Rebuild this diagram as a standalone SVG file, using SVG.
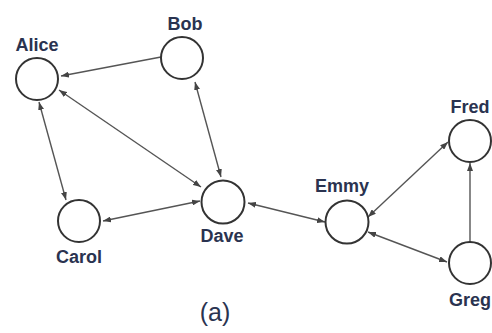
<svg xmlns="http://www.w3.org/2000/svg" width="492" height="333" viewBox="0 0 492 333">
  <style>
    .node circle { fill: #ffffff; stroke: #333333; stroke-width: 2; }
    .node text { font-family: "Liberation Sans", Arial, sans-serif; font-weight: bold; font-size: 18px; fill: #2a3350; text-anchor: middle; }
    .edge { stroke: #555555; stroke-width: 1.4; fill: none; }
    .one { marker-end: url(#ah); }
    .two { marker-start: url(#ah); marker-end: url(#ah); }
    .caption { font-family: "Liberation Sans", Arial, sans-serif; font-size: 25px; fill: #2a3350; text-anchor: middle; }
  </style>
  <defs>
    <marker id="ah" markerUnits="userSpaceOnUse" markerWidth="8" markerHeight="6" refX="8" refY="3" orient="auto-start-reverse">
      <path d="M0,0 L8,3 L0,6 z" fill="#444444"/>
    </marker>
  </defs>
  <rect width="492" height="333" fill="#ffffff"/>
  <g id="connectors">
    <line class="edge one" x1="161" y1="57" x2="61" y2="76"/>
    <line class="edge two" x1="59" y1="90" x2="201" y2="187"/>
    <line class="edge two" x1="39" y1="102" x2="66" y2="200"/>
    <line class="edge two" x1="195" y1="82" x2="221" y2="177"/>
    <line class="edge two" x1="103" y1="221" x2="200" y2="201"/>
    <line class="edge two" x1="248" y1="203" x2="325" y2="222"/>
    <line class="edge two" x1="368" y1="217" x2="448" y2="142"/>
    <line class="edge two" x1="368" y1="232" x2="447" y2="262"/>
    <line class="edge one" x1="470" y1="242" x2="470" y2="163"/>
  </g>
  <g id="alice" class="node">
    <circle cx="37" cy="79" r="21"/>
    <text x="37" y="51">Alice</text>
  </g>
  <g id="bob" class="node">
    <circle cx="182" cy="58" r="21"/>
    <text x="185" y="30">Bob</text>
  </g>
  <g id="carol" class="node">
    <circle cx="79" cy="221" r="21"/>
    <text x="79" y="263">Carol</text>
  </g>
  <g id="dave" class="node">
    <circle cx="223" cy="202" r="21.5"/>
    <text x="222" y="242">Dave</text>
  </g>
  <g id="emmy" class="node">
    <circle cx="347" cy="222" r="21.5"/>
    <text x="342" y="192">Emmy</text>
  </g>
  <g id="fred" class="node">
    <circle cx="470" cy="141" r="21"/>
    <text x="470" y="113">Fred</text>
  </g>
  <g id="greg" class="node">
    <circle cx="470" cy="263" r="21"/>
    <text x="470" y="306">Greg</text>
  </g>
  <text class="caption" x="215" y="321">(a)</text>
</svg>
